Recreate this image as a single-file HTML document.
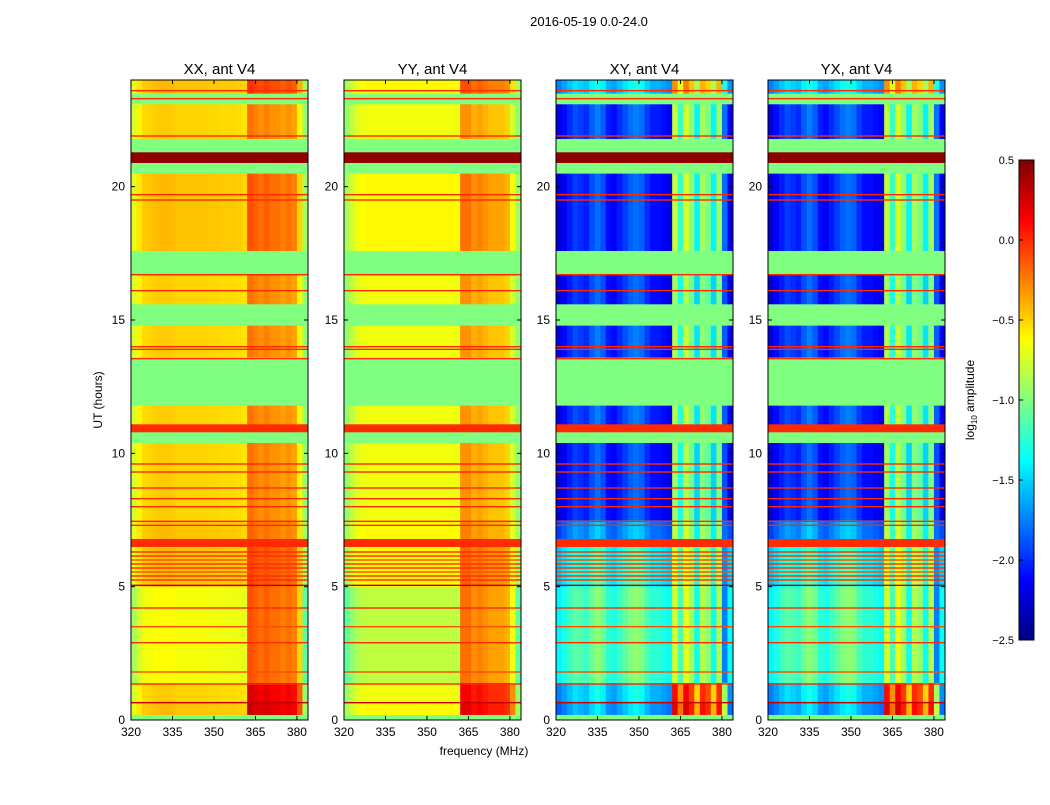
<!DOCTYPE html>
<html><head><meta charset="utf-8"><style>
body{margin:0;background:#fff;font-family:"Liberation Sans",sans-serif}
svg text{font-family:"Liberation Sans","DejaVu Sans",sans-serif}
</style></head><body>
<svg id="fig" width="1050" height="800" xmlns="http://www.w3.org/2000/svg">
<rect width="1050" height="800" fill="#fff"/>
<text x="589" y="26" font-size="13" text-anchor="middle">2016-05-19 0.0-24.0</text>
<text x="484" y="755" font-size="12" text-anchor="middle">frequency (MHz)</text>
<text transform="translate(102,400) rotate(-90)" font-size="12" text-anchor="middle">UT (hours)</text>
<text transform="translate(974,400) rotate(-90)" font-size="12" text-anchor="middle">log<tspan font-size="8" dy="3">10</tspan><tspan dy="-3"> amplitude</tspan></text>
<g id="panels"></g>
<g id="cbar"></g>
</svg>
<script>
// ---- data ----
const panelTitles = ["XX, ant V4","YY, ant V4","XY, ant V4","YX, ant V4"];
const panelX = [131,344,556,768];
const xTicks = [320,335,350,365,380];
const yTicks = [0,5,10,15,20];
const cbarTicks = [0.5,0.0,-0.5,-1.0,-1.5,-2.0,-2.5];
// frequency profile (2 MHz columns, 320-384) per panel
const profXX = [-0.75,-0.6,-0.52,-0.5,-0.48,-0.47,-0.47,-0.48,-0.5,-0.5,-0.5,-0.5,-0.5,-0.5,-0.51,-0.51,-0.52,-0.52,-0.52,-0.53,-0.55,-0.2,-0.25,-0.3,-0.25,-0.3,-0.3,-0.35,-0.3,-0.35,-0.6,-0.95];
const profYY = [-0.95,-0.8,-0.7,-0.68,-0.66,-0.66,-0.66,-0.66,-0.66,-0.66,-0.66,-0.66,-0.66,-0.66,-0.66,-0.66,-0.66,-0.66,-0.66,-0.66,-0.68,-0.3,-0.3,-0.4,-0.35,-0.4,-0.45,-0.45,-0.45,-0.5,-0.75,-0.95];
const profXY = [-2.25,-2.15,-2.05,-1.95,-2.0,-2.05,-1.9,-1.8,-1.9,-2.1,-2.15,-2.05,-1.95,-1.85,-1.8,-1.85,-2.0,-2.1,-2.1,-2.15,-2.2,-0.9,-1.3,-0.85,-1.05,-1.5,-1.0,-1.1,-1.5,-1.0,-1.9,-2.2];
const profYX = [-2.25,-2.15,-2.05,-1.95,-2.0,-2.05,-1.9,-1.8,-1.9,-2.1,-2.15,-2.05,-1.95,-1.85,-1.8,-1.85,-2.0,-2.1,-2.1,-2.15,-2.2,-0.9,-1.3,-0.85,-1.05,-1.5,-1.0,-1.1,-1.5,-1.0,-1.9,-2.2];
// time segments: start hour, end hour, kind (0 data,1 flagged green,2 orange band,3 dark red band)
const segStart = [0,0.2,0.7,1.4,5.0,6.5,6.8,7.5,10.4,10.8,11.1,11.8,13.6,14.8,15.6,16.7,17.6,20.5,20.9,21.3,21.8,23.1,23.5];
const segEnd   = [0.2,0.7,1.4,5.0,6.5,6.8,7.5,10.4,10.8,11.1,11.8,13.6,14.8,15.6,16.7,17.6,20.5,20.9,21.3,21.8,23.1,23.5,24];
const segKind  = [1,0,0,0,0,2,0,0,1,2,0,1,0,1,0,1,0,1,3,1,0,1,0];
// per-segment intensity offsets: low band (320-362 MHz) and high band (362-384 MHz)
const segOffAutoLow   = [0,0.05,0.0,-0.15,0.05,0,0.05,0,0,0,0,0,0,0,0,0,0.05,0,0,0,0,0,0.05];
const segOffAutoHigh  = [0,0.5,0.45,0.1,0.15,0,0.05,0,0,0,0,0,0,0,0,0,0.1,0,0,0,0,0,0.2];
const segOffCrossLow  = [0,0.4,0.5,0.85,0.7,0,0.3,0,0,0,0.05,0,0.05,0,0,0,0,0,0,0,0.05,0,0.5];
const segOffCrossHigh = [0,1.1,1.0,0.15,0.2,0,0.1,0,0,0,0.05,0,0.05,0,0,0,0.1,0,0,0,0.1,0,0.6];
// thin RFI lines (hours)
const lineTimes = [0.65,1.35,1.8,2.9,3.5,4.2,5.05,5.25,5.4,5.55,5.7,5.85,6.0,6.15,6.3,7.3,7.45,8.0,8.3,8.7,9.3,9.6,13.55,13.9,14.0,16.1,16.7,19.5,19.7,21.9,23.3,23.6];
const lineVals  = [0.3,0,-0.1,0,-0.1,0,0.3,0,0,-0.1,0,0,-0.1,0,0,0,0,0,0,0,0,0,0,0,0,0,0,0,0,0,0,0];

// ---- helpers ----
const W=177, H=640, Y0=80, F0=320, F1=384;
const profs=[profXX,profYY,profXY,profYX];
function jet(v){
  let t=(v+2.5)/3; t=Math.max(0,Math.min(1,t));
  const c=x=>Math.round(255*Math.max(0,Math.min(1,x)));
  return `rgb(${c(1.5-Math.abs(4*t-3))},${c(1.5-Math.abs(4*t-2))},${c(1.5-Math.abs(4*t-1))})`;
}
function ys(t){return Y0+H-t*H/24;}
const NS="http://www.w3.org/2000/svg";
function mk(tag,attrs,parent){const e=document.createElementNS(NS,tag);for(const k in attrs)e.setAttribute(k,attrs[k]);parent.appendChild(e);return e;}
const panels=document.getElementById('panels');
panelX.forEach((px,p)=>{
  const xs=f=>px+(f-F0)*W/(F1-F0);
  const g=mk('g',{},panels);
  
  
  const prof=profs[p], cross=p>=2;
  segStart.forEach((s,i)=>{
    const e=segEnd[i],k=segKind[i];
    if(k===0){
      prof.forEach((pv,c)=>{
        const high=c>=21&&c<=30;
        const off=cross?(high?segOffCrossHigh[i]:segOffCrossLow[i]):(high?segOffAutoHigh[i]:segOffAutoLow[i]);
        const v=pv+off;
        const r=mk('rect',{x:xs(F0+2*c),y:ys(e),width:W/32+0.4,height:ys(s)-ys(e)+0.3,fill:jet(v)},g);
        
        
      });
    } else {
      const v=k===1?-1.0:k===2?0.0:0.45;
      const r=mk('rect',{x:px,y:ys(e),width:W,height:ys(s)-ys(e)+0.3,fill:jet(v)},g);
      
      
    }
  });
  lineTimes.forEach((t,i)=>{
    const r=mk('rect',{x:px,y:ys(t)-0.7,width:W,height:1.4,fill:jet(lineVals[i])},g);
    
    
  });
  const fr=mk('rect',{x:px,y:Y0,width:W,height:H,fill:'none',stroke:'#000','stroke-width':1},g);
  
  
  const tt=mk('text',{x:px+W/2,y:Y0-6,'font-size':15,'text-anchor':'middle'},g);
  tt.textContent=panelTitles[p];
  
  
  xTicks.forEach(f=>{
    const x=xs(f);
    mk('line',{x1:x,x2:x,y1:Y0+H,y2:Y0+H-4,stroke:'#000'},g);
    mk('line',{x1:x,x2:x,y1:Y0,y2:Y0+4,stroke:'#000'},g);
    const t=mk('text',{x:x,y:Y0+H+16,'font-size':12,'text-anchor':'middle'},g);
    t.textContent=f;
    
    
  });
  yTicks.forEach(h=>{
    const y=ys(h);
    mk('line',{x1:px,x2:px+4,y1:y,y2:y,stroke:'#000'},g);
    mk('line',{x1:px+W,x2:px+W-4,y1:y,y2:y,stroke:'#000'},g);
    const t=mk('text',{x:px-6,y:y+4,'font-size':12,'text-anchor':'end'},g);
    t.textContent=h;
    
    
  });
});
// colorbar
const cb=document.getElementById('cbar');
const CX=1019,CW=15,CY=160,CH=480;
for(let i=0;i<120;i++){
  const v=-2.5+3*(i+0.5)/120;
  mk('rect',{x:CX,y:CY+CH-(i+1)*CH/120,width:CW,height:CH/120+0.5,fill:jet(v)},cb);
}
const cf=mk('rect',{x:CX,y:CY,width:CW,height:CH,fill:'none',stroke:'#000'},cb);


cbarTicks.forEach(v=>{
  const y=CY+CH-(v+2.5)/3*CH;
  mk('line',{x1:CX,x2:CX+4,y1:y,y2:y,stroke:'#000'},cb);
  const t=mk('text',{x:CX-5,y:y+4,'font-size':11,'text-anchor':'end'},cb);
  t.textContent=(v<0?'\u2212':'')+Math.abs(v).toFixed(1);
  
  
});
</script>
</body></html>
